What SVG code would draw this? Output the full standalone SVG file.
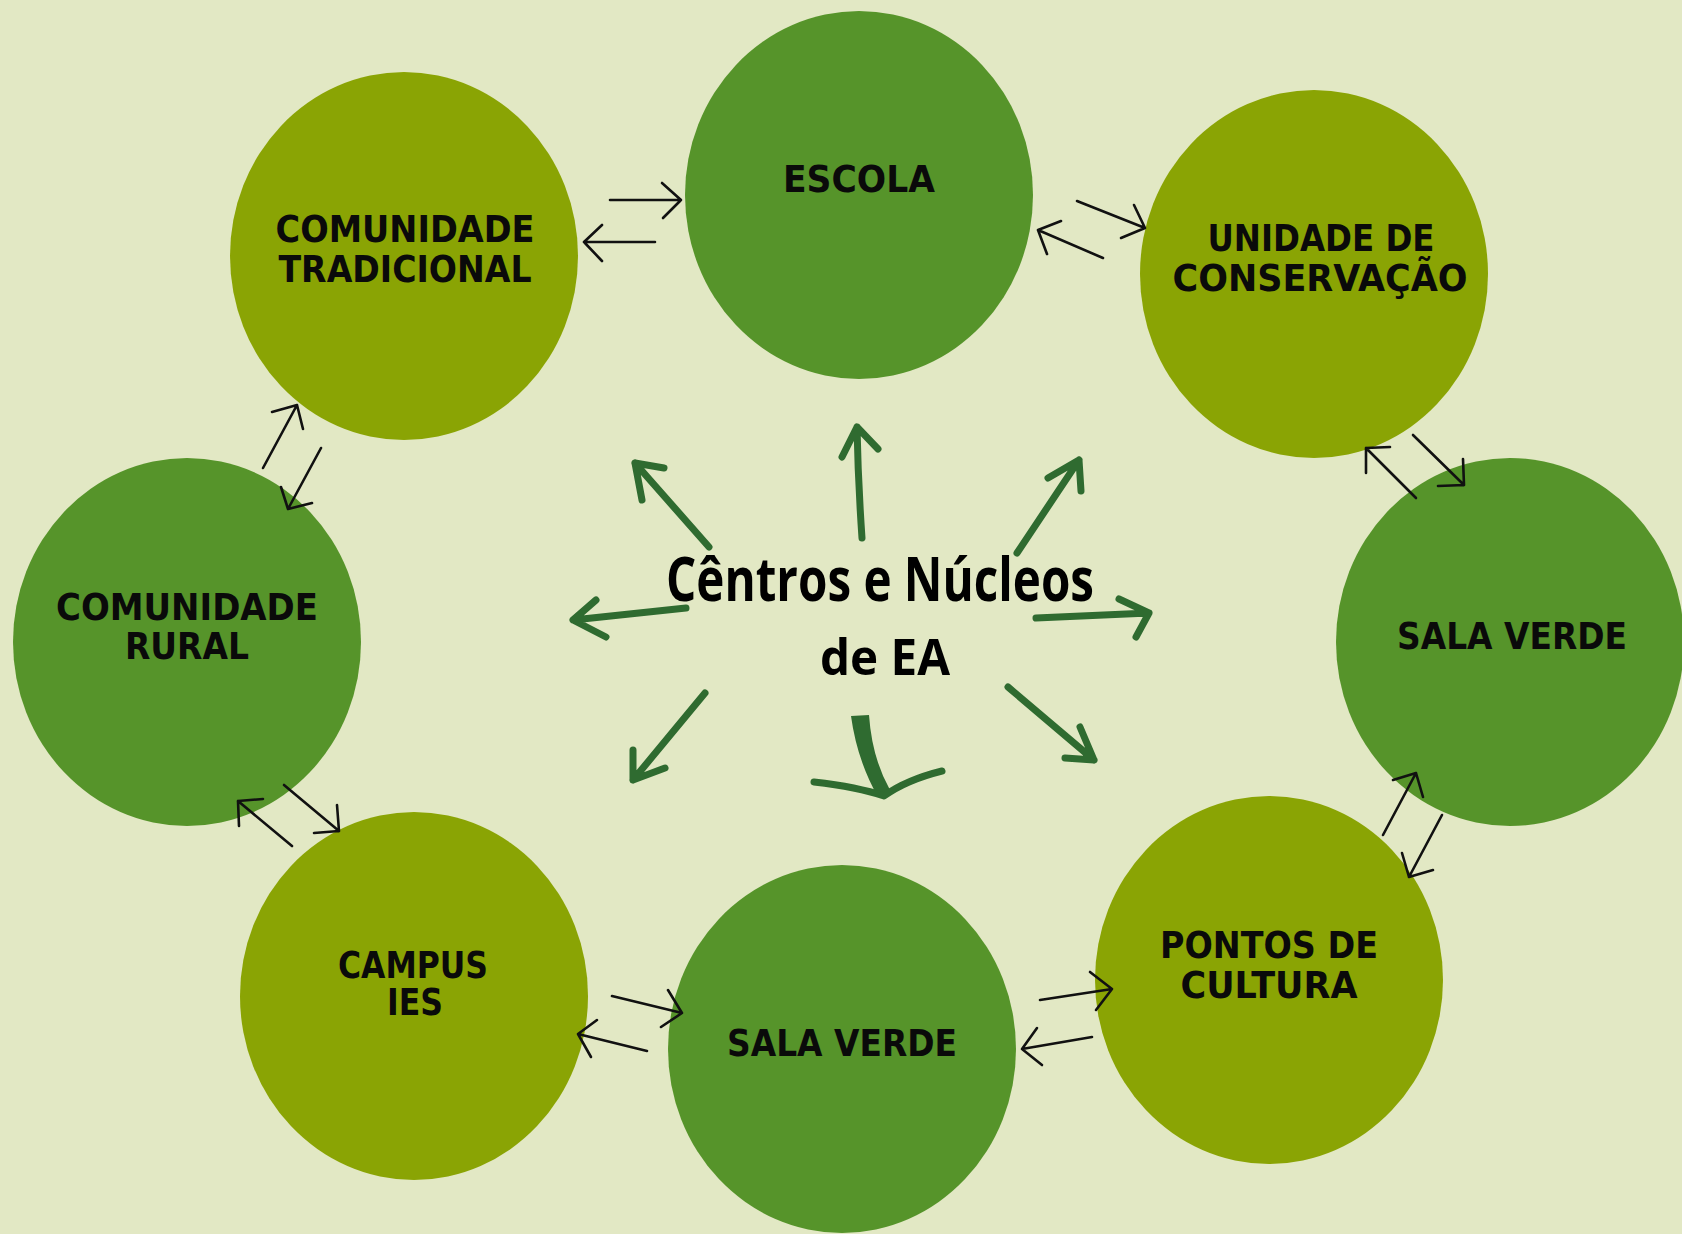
<svg xmlns="http://www.w3.org/2000/svg" width="1682" height="1234" viewBox="0 0 1682 1234">
<style>
.dark{fill:#56942a}
.olive{fill:#8aa404}
.lbl{font-family:"DejaVu Sans","Liberation Sans",sans-serif;font-weight:bold;font-size:38px;fill:#0a0a0a;text-anchor:middle}
.hub{font-family:"Open Sans","Liberation Sans",sans-serif;font-weight:700;fill:#000;text-anchor:middle}
.ga{fill:none;stroke:#2f6b30;stroke-width:7;stroke-linecap:round;stroke-linejoin:round}
.ba{fill:none;stroke:#111;stroke-width:2.6;stroke-linecap:round;stroke-linejoin:round}
</style>
<rect width="1682" height="1234" fill="#e2e8c4"/>

<g id="node-trad">
<ellipse cx="404" cy="256" rx="174" ry="184" class="olive"/>
<text class="lbl" x="405" y="242" textLength="259" lengthAdjust="spacingAndGlyphs">COMUNIDADE</text>
<text class="lbl" x="405" y="282" textLength="253" lengthAdjust="spacingAndGlyphs">TRADICIONAL</text>
</g>
<g id="node-escola">
<ellipse cx="859" cy="195" rx="174" ry="184" class="dark"/>
<text class="lbl" x="859" y="192" textLength="152" lengthAdjust="spacingAndGlyphs">ESCOLA</text>
</g>
<g id="node-unidade">
<ellipse cx="1314" cy="274" rx="174" ry="184" class="olive"/>
<text class="lbl" x="1321" y="251" textLength="227" lengthAdjust="spacingAndGlyphs">UNIDADE DE</text>
<text class="lbl" x="1320" y="291" textLength="295" lengthAdjust="spacingAndGlyphs">CONSERVAÇÃO</text>
</g>
<g id="node-sala-verde-1">
<ellipse cx="1510" cy="642" rx="174" ry="184" class="dark"/>
<text class="lbl" x="1512" y="649" textLength="230" lengthAdjust="spacingAndGlyphs">SALA VERDE</text>
</g>
<g id="node-rural">
<ellipse cx="187" cy="642" rx="174" ry="184" class="dark"/>
<text class="lbl" x="187" y="620" textLength="262" lengthAdjust="spacingAndGlyphs">COMUNIDADE</text>
<text class="lbl" x="187" y="659" textLength="124" lengthAdjust="spacingAndGlyphs">RURAL</text>
</g>
<g id="node-campus">
<ellipse cx="414" cy="996" rx="174" ry="184" class="olive"/>
<text class="lbl" x="413" y="978" textLength="150" lengthAdjust="spacingAndGlyphs">CAMPUS</text>
<text class="lbl" x="415" y="1015" textLength="56" lengthAdjust="spacingAndGlyphs">IES</text>
</g>
<g id="node-sala-verde-2">
<ellipse cx="842" cy="1049" rx="174" ry="184" class="dark"/>
<text class="lbl" x="842" y="1056" textLength="230" lengthAdjust="spacingAndGlyphs">SALA VERDE</text>
</g>
<g id="node-pontos">
<ellipse cx="1269" cy="980" rx="174" ry="184" class="olive"/>
<text class="lbl" x="1269" y="958" textLength="218" lengthAdjust="spacingAndGlyphs">PONTOS DE</text>
<text class="lbl" x="1269" y="998" textLength="177" lengthAdjust="spacingAndGlyphs">CULTURA</text>
</g>
<g id="node-hub">
<text class="hub" x="880" y="601" font-size="60" textLength="428" lengthAdjust="spacingAndGlyphs">Cêntros e Núcleos</text>
<text class="hub" x="885" y="675" font-size="50" textLength="130" lengthAdjust="spacingAndGlyphs">de EA</text>
</g>

<g id="connectors">
<g id="hub-arrows">
<path class="ga" d="M862,538 Q858,480 857,427 M842,457 L857,427 L878,449"/>
<path class="ga" d="M709,547 L635,463 M642,500 L635,463 L664,468"/>
<path class="ga" d="M1017,553 L1079,460 M1048,478 L1079,460 L1081,491"/>
<path class="ga" d="M686,608 L573,620 M596,600 L573,620 L606,637"/>
<path class="ga" d="M1036,618 L1149,613 M1119,599 L1149,613 L1136,637"/>
<path class="ga" d="M705,693 L633,780 M633,750 L633,780 L665,768"/>
<path class="ga" d="M1008,687 L1094,760 M1080,727 L1094,760 L1065,758"/>
<path d="M851,716 L869,715 Q872,758 890,790 L878,797 Q857,760 851,716 Z" fill="#2f6b30"/>
<path class="ga" stroke-width="8" d="M814,782 Q858,787 884,796 Q906,780 942,771"/>
</g>
<g id="pair-arrows">
<path class="ba" d="M610,200 L681,200 M662,183 L681,200 L663,218"/>
<path class="ba" d="M655,242 L584,242 M602,225 L584,242 L602,261"/>
<path class="ba" d="M1077,201 L1145,228 M1134,205 L1145,228 L1121,238"/>
<path class="ba" d="M1103,258 L1038,230 M1061,221 L1038,230 L1047,254"/>
<path class="ba" d="M1416,498 L1366,448 M1390,447 L1366,448 L1366,473"/>
<path class="ba" d="M1413,435 L1464,485 M1463,459 L1464,485 L1438,486"/>
<path class="ba" d="M1383,835 L1416,773 M1393,780 L1416,773 L1423,797"/>
<path class="ba" d="M1442,815 L1409,877 M1402,853 L1409,877 L1433,870"/>
<path class="ba" d="M1040,1000 L1112,989 M1090,972 L1112,989 L1096,1010"/>
<path class="ba" d="M1092,1037 L1022,1049 M1037,1028 L1022,1049 L1042,1065"/>
<path class="ba" d="M612,996 L682,1013 M668,990 L682,1013 L661,1027"/>
<path class="ba" d="M647,1051 L578,1034 M597,1020 L578,1034 L591,1057"/>
<path class="ba" d="M292,846 L238,801 M263,799 L238,801 L239,826"/>
<path class="ba" d="M284,785 L339,831 M337,805 L339,831 L314,833"/>
<path class="ba" d="M263,468 L297,405 M272,412 L297,405 L303,429"/>
<path class="ba" d="M321,448 L288,509 M281,487 L288,509 L312,503"/>
</g>
</g>
</svg>
